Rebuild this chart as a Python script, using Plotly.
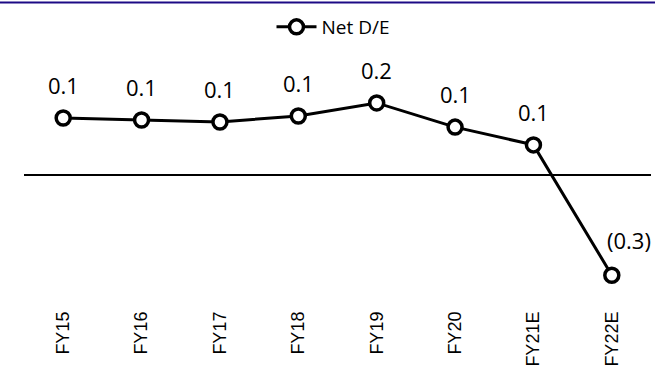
import plotly.graph_objects as go

# Net debt-to-equity by fiscal year
years = ["FY15", "FY16", "FY17", "FY18", "FY19", "FY20", "FY21E", "FY22E"]
net_de = [0.144, 0.139, 0.134, 0.149, 0.182, 0.121, 0.076, -0.253]


def fmt(v):
    s = f"{abs(v):.1f}"
    return f"({s})" if v < 0 else s


labels = [fmt(v) for v in net_de]

W, H = 655, 383
ML, MR, MT, MB = 24, 4, 40, 76
PH = H - MT - MB

fig = go.Figure()
fig.add_trace(go.Scatter(
    x=years, y=net_de, name="Net D/E", mode="lines+markers",
    line=dict(color="black", width=3),
    marker=dict(symbol="circle", size=14, color="white",
                line=dict(color="black", width=3.5)),
    cliponaxis=False,
))

# value labels above each point; the negative one sits up and to the right
for yr, v, t in zip(years, net_de, labels):
    fig.add_annotation(
        x=yr, y=v, text=t, showarrow=False,
        yshift=35 if v < 0 else 33, xshift=17 if v < 0 else 0,
        font=dict(family="Open Sans", size=22, color="black"),
    )

# dark rule across the top of the page
pw = W - ML - MR
fig.add_shape(type="line", xref="paper", yref="paper",
              x0=-ML / pw, x1=(pw + MR) / pw,
              y0=1 + (MT - 2.5) / PH, y1=1 + (MT - 2.5) / PH,
              line=dict(color="#1c0a85", width=2))

fig.update_layout(
    width=W, height=H,
    margin=dict(l=ML, r=MR, t=MT, b=MB),
    paper_bgcolor="white", plot_bgcolor="white",
    showlegend=True,
    legend=dict(orientation="h", x=(333 - ML) / pw, xanchor="center",
                y=1 + (MT - 27) / PH, yanchor="middle",
                font=dict(family="Open Sans", size=19, color="black"),
                itemwidth=40),
    xaxis=dict(type="category", range=[-0.5, 7.5], showgrid=False,
               showline=False, ticks="", tickangle=-90,
               tickfont=dict(family="Arial", size=18, color="black")),
    yaxis=dict(range=[-0.3333, 0.3409], showgrid=False, showticklabels=False,
               zeroline=True, zerolinecolor="black", zerolinewidth=2,
               showline=False, ticks=""),
)

fig.write_html("out.html")
